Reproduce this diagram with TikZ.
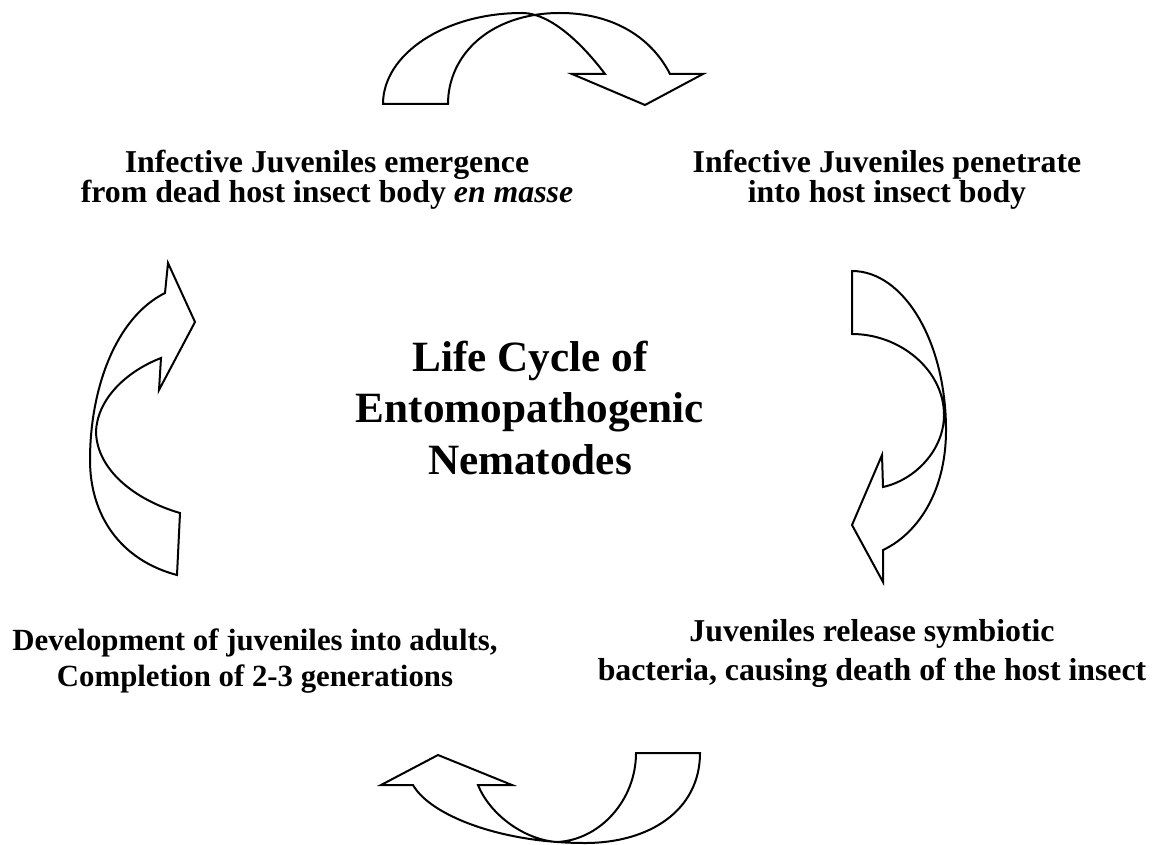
\documentclass[tikz,border=0pt]{standalone}
\usepackage{fontspec}
\setmainfont{Liberation Serif}
\usepackage{tikz}
\newcommand{\arrowlw}{1pt}
\tikzset{cyclearrow/.style={draw, line width=\arrowlw, line join=miter}}
\tikzset{stagetext/.style={align=center, inner sep=0pt, font=\bfseries\fontsize{15.9}{#1}\selectfont}, stagetext/.default=15}
\tikzset{titletext/.style={align=center, inner sep=0pt, font=\bfseries\fontsize{21.6}{25.8}\selectfont}}

\begin{document}
\begin{tikzpicture}[x=0.5pt, y=-0.5pt]

\useasboundingbox (0,0) rectangle (1159,844);

\node[titletext] (title) at (530,408) {Life Cycle of\\Entomopathogenic\\Nematodes};

\node[stagetext] (emerge) at (327,180) {Infective Juveniles emergence\\from dead host insect body \textit{en masse}};
\node[stagetext] (penetrate) at (887,180) {Infective Juveniles penetrate\\into host insect body};
\node[stagetext=19.5] (release) at (872,653) {Juveniles release symbiotic\\bacteria, causing death of the host insect};
\node[stagetext=18, font=\bfseries\fontsize{15.4}{18}\selectfont] (develop) at (255,661) {Development of juveniles into adults,\\Completion of 2-3 generations};

% top arrow
\draw[cyclearrow] (383,104) .. controls (383,54) and (445,13) .. (522,13) .. controls (555,13) and (590,54) .. (605,74)
  -- (572,74) -- (645,105) -- (703,74) -- (670,74)
  .. controls (650,35) and (610,13) .. (560,13) .. controls (490,13) and (448,55) .. (448,104) -- cycle;

% right arrow
\draw[cyclearrow] (852,271) .. controls (904,271) and (946,342) .. (946,430) .. controls (946,495) and (915,535) .. (883,550)
  -- (883,582) -- (852,525) -- (882,455) -- (883,487)
  .. controls (915,480) and (944,450) .. (944,415) .. controls (944,370) and (900,334) .. (852,334) -- cycle;

% bottom arrow
\draw[cyclearrow] (700,753) .. controls (700,810) and (650,843) .. (585,843) .. controls (500,843) and (430,815) .. (413,785)
  -- (381,785) -- (438,755) -- (512,785) -- (478,785)
  .. controls (490,815) and (525,840) .. (557,842) .. controls (600,840) and (636,800) .. (636,753) -- cycle;

% left arrow
\draw[cyclearrow] (177,575) .. controls (120,560) and (90,515) .. (90,460) .. controls (90,390) and (115,318) .. (165,293)
  -- (168,263) -- (195,322) -- (159,390) -- (161,358)
  .. controls (125,372) and (97,400) .. (96,432) .. controls (97,470) and (135,500) .. (180,513) -- cycle;

\end{tikzpicture}
\end{document}
